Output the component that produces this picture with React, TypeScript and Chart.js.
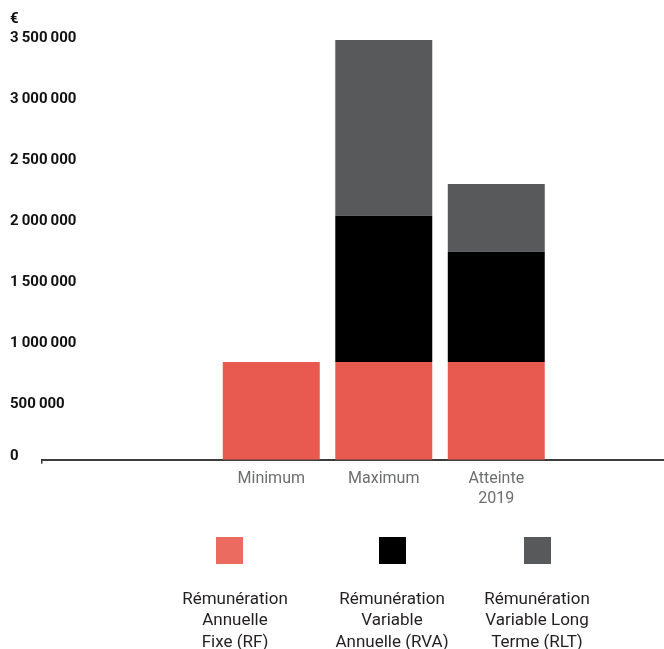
import React, { useEffect, useRef } from 'react';
import { Chart, registerables } from 'chart.js';

Chart.register(...registerables);

// ---- data ----
const categories = ['Minimum', 'Maximum', 'Atteinte\n2019'];
const categoryPositions = [1, 2, 3];
const seriesNames = [
  'Rémunération Annuelle Fixe (RF)',
  'Rémunération Variable Annuelle (RVA)',
  'Rémunération Variable Long Terme (RLT)',
];
const rfValues = [800000, 800000, 800000];
const rvaValues = [0, 1200000, 905000];
const rltValues = [0, 1440000, 555000];
const yTickLabels = [
  '0',
  '500\u2009000',
  '1\u2009000\u2009000',
  '1\u2009500\u2009000',
  '2\u2009000\u2009000',
  '2\u2009500\u2009000',
  '3\u2009000\u2009000',
  '3\u2009500\u2009000',
];
const yUnit = '€';
const legendLines = [
  ['Rémunération', 'Annuelle', 'Fixe (RF)'],
  ['Rémunération', 'Variable', 'Annuelle (RVA)'],
  ['Rémunération', 'Variable Long', 'Terme (RLT)'],
];

// ---- styles ----
const barColors = ['#E85A4F', '#000000', '#58595B'];
const legendColors = ['#EC6B60', '#000000', '#58595B'];
const FONT = 'Roboto, "Noto Sans", sans-serif';
const X_MIN = -1.038;
const X_MAX = 4.491;
const Y_STEP = 500000;

const legendPlugin = {
  id: 'boxLegend',
  afterDraw(chart: any, _args: any, opts: any) {
    const ctx = chart.ctx;
    ctx.save();
    chart.data.datasets.forEach((_ds: any, i: number) => {
      const bx = opts.boxCenters[i];
      ctx.fillStyle = legendColors[i];
      ctx.fillRect(bx - opts.boxSize / 2, opts.boxTop, opts.boxSize, opts.boxSize);
      ctx.fillStyle = opts.color;
      ctx.font = `${opts.fontSize}px ${FONT}`;
      ctx.textAlign = 'center';
      ctx.textBaseline = 'alphabetic';
      legendLines[i].forEach((line, j) => {
        ctx.fillText(line, opts.textCenters[i], opts.firstBaseline + j * opts.lineGap);
      });
    });
    ctx.restore();
  },
};

export default function App() {
  const ref = useRef<HTMLCanvasElement | null>(null);

  useEffect(() => {
    if (!ref.current) return;
    const seriesValues = [rfValues, rvaValues, rltValues];
    const chart = new Chart(ref.current, {
      type: 'bar',
      data: {
        datasets: seriesValues.map((vals, i) => ({
          label: seriesNames[i],
          data: vals.map((v, k) => ({ x: categoryPositions[k], y: v })),
          backgroundColor: barColors[i],
          borderWidth: 0,
          stack: 'total',
          barPercentage: 0.862,
          categoryPercentage: 1,
        })),
      },
      options: {
        responsive: false,
        animation: false,
        layout: { padding: { top: 0, left: 10, right: 0, bottom: 135.3 } },
        plugins: {
          legend: { display: false },
          tooltip: { enabled: false },
          title: {
            display: true,
            text: yUnit,
            align: 'start',
            color: '#111111',
            font: { family: FONT, size: 15, weight: 'bold', lineHeight: 1.2 },
            padding: { top: 10, bottom: 4.7 },
          },
          boxLegend: {
            boxCenters: [229.5, 392.5, 537.5],
            textCenters: [235, 392, 537],
            boxTop: 537,
            boxSize: 27,
            firstBaseline: 603.5,
            lineGap: 21.6,
            fontSize: 17,
            color: '#231F20',
          },
        } as any,
        scales: {
          x: {
            type: 'linear',
            offset: false,
            min: X_MIN,
            max: X_MAX,
            afterBuildTicks: (axis: any) => {
              axis.ticks = [{ value: X_MIN }, ...categoryPositions.map((p) => ({ value: p }))];
            },
            ticks: {
              padding: 5,
              color: '#6D6E70',
              font: { family: FONT, size: 16, lineHeight: 1.25 },
              maxRotation: 0,
              autoSkip: false,
              callback: (value: any) => {
                const idx = categoryPositions.indexOf(Number(value));
                return idx >= 0 ? categories[idx].split('\n') : '';
              },
            },
            grid: {
              display: true,
              offset: false,
              drawOnChartArea: false,
              drawTicks: true,
              tickLength: 4,
              color: (ctx: any) => (ctx.tick && ctx.tick.value === X_MIN ? '#3C3C3C' : 'rgba(0,0,0,0)'),
              lineWidth: 1.5,
            },
            border: { display: true, color: '#3C3C3C', width: 2 },
          },
          y: {
            stacked: true,
            min: 0,
            max: Y_STEP * (yTickLabels.length - 1),
            afterFit: (scale: any) => {
              scale.width = 32;
            },
            ticks: {
              mirror: true,
              padding: -32,
              crossAlign: 'near',
              labelOffset: 6,
              color: '#111111',
              font: { family: FONT, size: 15, weight: 'bold', lineHeight: 1.2 },
              callback: (value: any) => {
                const label = yTickLabels[Math.round(Number(value) / Y_STEP)];
                return Number(value) === 0 ? [label, ''] : label;
              },
            },
            grid: { display: false },
            border: { display: false },
          },
        },
      } as any,
      plugins: [legendPlugin as any],
    });
    return () => chart.destroy();
  }, []);

  return (
    <div style={{ position: 'absolute', left: 0, top: 0, width: 664, height: 649, background: '#fff' }}>
      <canvas ref={ref} width={664} height={649} style={{ display: 'block' }} />
    </div>
  );
}
